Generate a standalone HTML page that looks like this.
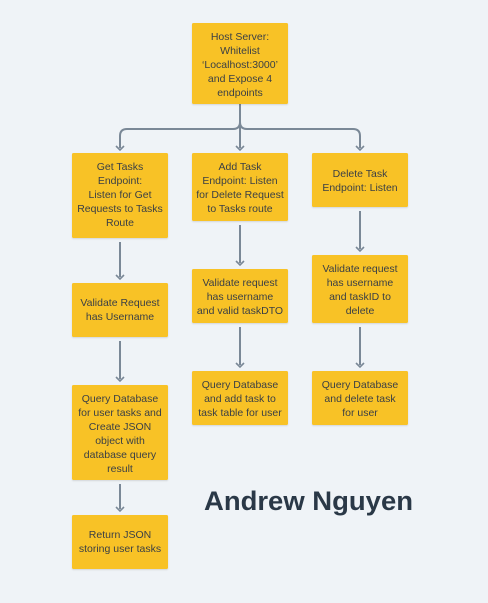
<!DOCTYPE html>
<html><head><meta charset="utf-8"><style>
html,body{margin:0;padding:0;background:#eff3f7;}
svg{display:block;}
text{font-family:"Liberation Sans",sans-serif;}
.t{font-size:10.5px;fill:#3a3f45;text-anchor:middle;}
</style></head><body>
<svg width="488" height="603" viewBox="0 0 488 603" xmlns="http://www.w3.org/2000/svg">
<defs>
<marker id="a" markerWidth="8" markerHeight="8" refX="4" refY="4" orient="auto" markerUnits="userSpaceOnUse">
<path d="M0,1 L4,4 L0,7" fill="none" stroke="#7a8897" stroke-width="1.6"/>
</marker>
<filter id="s" x="-10%" y="-10%" width="120%" height="130%"><feDropShadow dx="0" dy="1" stdDeviation="0.8" flood-color="#000" flood-opacity="0.12"/></filter>
</defs>
<rect width="488" height="603" fill="#eff3f7"/>
<g stroke="#7a8897" stroke-width="2" fill="none">
<path d="M240,104 V122 M240,122 Q240,129 233,129 H127 Q120,129 120,136 V148"/>
<path d="M240,122 Q240,129 247,129 H353 Q360,129 360,136 V148"/>
<path d="M240,126 V148"/>
<path d="M120,242 V277"/><path d="M120,341 V379"/><path d="M120,484 V509"/>
<path d="M240,225 V263"/><path d="M240,327 V365"/>
<path d="M360,211 V249"/><path d="M360,327 V365"/>
</g>
<g fill="none" stroke="#7a8897" stroke-width="1.6">
<path d="M116,146 L120,150 L124,146"/><path d="M236,146 L240,150 L244,146"/><path d="M356,146 L360,150 L364,146"/>
<path d="M116,275 L120,279 L124,275"/><path d="M116,377 L120,381 L124,377"/><path d="M116,507 L120,511 L124,507"/>
<path d="M236,261 L240,265 L244,261"/><path d="M236,363 L240,367 L244,363"/>
<path d="M356,247 L360,251 L364,247"/><path d="M356,363 L360,367 L364,363"/>
</g>
<g fill="#f8c227" filter="url(#s)">
<rect x="192" y="23" width="96" height="81" rx="1.5"/>
<rect x="72" y="153" width="96" height="85" rx="1.5"/>
<rect x="192" y="153" width="96" height="68" rx="1.5"/>
<rect x="312" y="153" width="96" height="54" rx="1.5"/>
<rect x="72" y="283" width="96" height="54" rx="1.5"/>
<rect x="72" y="385" width="96" height="95" rx="1.5"/>
<rect x="72" y="515" width="96" height="54" rx="1.5"/>
<rect x="192" y="269" width="96" height="54" rx="1.5"/>
<rect x="192" y="371" width="96" height="54" rx="1.5"/>
<rect x="312" y="255" width="96" height="68" rx="1.5"/>
<rect x="312" y="371" width="96" height="54" rx="1.5"/>
</g>
<g class="t">
<text class="t" x="240" y="40">Host Server:</text>
<text class="t" x="240" y="54">Whitelist</text>
<text class="t" x="240" y="68">‘Localhost:3000’</text>
<text class="t" x="240" y="82">and Expose 4</text>
<text class="t" x="240" y="96">endpoints</text>

<text class="t" x="120" y="170">Get Tasks</text>
<text class="t" x="120" y="184">Endpoint:</text>
<text class="t" x="120" y="198">Listen for Get</text>
<text class="t" x="120" y="212">Requests to Tasks</text>
<text class="t" x="120" y="226">Route</text>

<text class="t" x="240" y="170">Add Task</text>
<text class="t" x="240" y="184">Endpoint: Listen</text>
<text class="t" x="240" y="198">for Delete Request</text>
<text class="t" x="240" y="212">to Tasks route</text>

<text class="t" x="360" y="177">Delete Task</text>
<text class="t" x="360" y="191">Endpoint: Listen</text>

<text class="t" x="120" y="306">Validate Request</text>
<text class="t" x="120" y="320">has Username</text>

<text class="t" x="120" y="402">Query Database</text>
<text class="t" x="120" y="416">for user tasks and</text>
<text class="t" x="120" y="430">Create JSON</text>
<text class="t" x="120" y="444">object with</text>
<text class="t" x="120" y="458">database query</text>
<text class="t" x="120" y="472">result</text>

<text class="t" x="120" y="538">Return  JSON</text>
<text class="t" x="120" y="552">storing user tasks</text>

<text class="t" x="240" y="286">Validate request</text>
<text class="t" x="240" y="300">has username</text>
<text class="t" x="240" y="314">and valid taskDTO</text>

<text class="t" x="240" y="388">Query Database</text>
<text class="t" x="240" y="402">and add task to</text>
<text class="t" x="240" y="416">task table for user</text>

<text class="t" x="360" y="272">Validate request</text>
<text class="t" x="360" y="286">has username</text>
<text class="t" x="360" y="300">and taskID to</text>
<text class="t" x="360" y="314">delete</text>

<text class="t" x="360" y="388">Query Database</text>
<text class="t" x="360" y="402">and delete task</text>
<text class="t" x="360" y="416">for user</text>
</g>
<text x="204" y="510" font-size="27" font-weight="bold" fill="#2a3847" textLength="209" lengthAdjust="spacingAndGlyphs">Andrew Nguyen</text>
</svg>
</body></html>
